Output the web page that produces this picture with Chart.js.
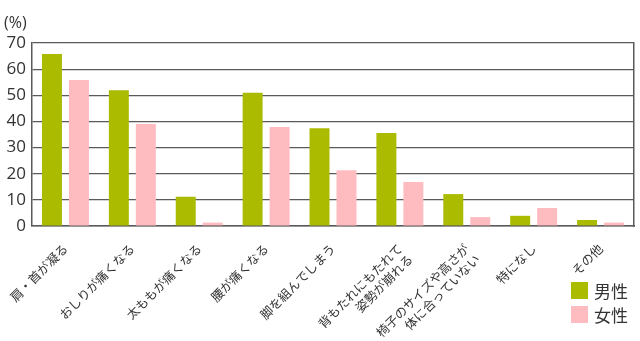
<!DOCTYPE html>
<html>
<head>
<meta charset="utf-8">
<script src="https://cdn.jsdelivr.net/npm/chart.js@4"></script>
<style>
    body { margin: 0; background: #fff; }
    #wrap { position: relative; width: 640px; height: 341px; }
    #unit { position: absolute; left: 4px; top: 11px; font: 16px "Open Sans", sans-serif; color: #333; }
    .legend { position: absolute; left: 571px; font: 17px "Noto Sans CJK JP", sans-serif; color: #333; display: flex; align-items: center; }
    .legend span { display: inline-block; width: 17px; height: 17px; margin-right: 6px; }
</style>
</head>
<body>
<div id="wrap">
    <canvas id="myChart" width="640" height="341"></canvas>
    <div id="unit">(%)</div>
    <div class="legend" style="top: 278px;"><span style="background: #aabb00;"></span>男性</div>
    <div class="legend" style="top: 302px;"><span style="background: #ffbcc0;"></span>女性</div>
</div>
<script>
const categories = [
    '肩・首が凝る',
    'おしりが痛くなる',
    '太ももが痛くなる',
    '腰が痛くなる',
    '脚を組んでしまう',
    ['背もたれにもたれて', '姿勢が崩れる'],
    ['椅子のサイズや高さが', '体に合っていない'],
    '特になし',
    'その他'
];
const maleValues = [65.8, 51.9, 11.2, 51.0, 37.4, 35.6, 12.2, 3.9, 2.3];
const femaleValues = [55.8, 39.0, 1.3, 37.9, 21.3, 16.8, 3.4, 6.9, 1.3];
const yTicks = [0, 10, 20, 30, 40, 50, 60, 70];

const lineColor = '#5a5a5a';

const ctx = document.getElementById('myChart');
new Chart(ctx, {
    type: 'bar',
    data: {
        labels: categories,
        datasets: [{
            label: '男性',
            data: maleValues,
            backgroundColor: '#aabb00',
            categoryPercentage: 0.807,
            barPercentage: 0.74
        }, {
            label: '女性',
            data: femaleValues,
            backgroundColor: '#ffbcc0',
            categoryPercentage: 0.807,
            barPercentage: 0.74
        }]
    },
    options: {
        responsive: false,
        animation: false,
        layout: {
            padding: { top: 43, right: 6, left: 0, bottom: 0 }
        },
        plugins: {
            legend: { display: false },
            tooltip: { enabled: false }
        },
        scales: {
            x: {
                grid: { display: false },
                border: { color: lineColor, width: 1.5 },
                ticks: {
                    maxRotation: 45,
                    minRotation: 45,
                    autoSkip: false,
                    padding: 7,
                    color: '#333',
                    font: { family: '"Noto Sans CJK JP", sans-serif', size: 12.5 }
                },
                afterFit: (scale) => { scale.height = 115; }
            },
            y: {
                min: 0,
                max: 70,
                afterBuildTicks: (scale) => {
                    scale.ticks = yTicks.map(v => ({ value: v }));
                },
                grid: { color: lineColor, lineWidth: 1.2, drawTicks: false },
                border: { color: lineColor, width: 1.5 },
                ticks: {
                    padding: 6,
                    color: '#333',
                    font: { family: '"Open Sans", sans-serif', size: 17 }
                },
                afterFit: (scale) => { scale.width = 32; }
            },
            y2: {
                position: 'right',
                min: 0,
                max: 70,
                grid: { display: false, drawTicks: false },
                border: { color: lineColor, width: 1.5 },
                ticks: { display: false },
                afterFit: (scale) => { scale.width = 0; }
            }
        }
    }
});
</script>
</body>
</html>
